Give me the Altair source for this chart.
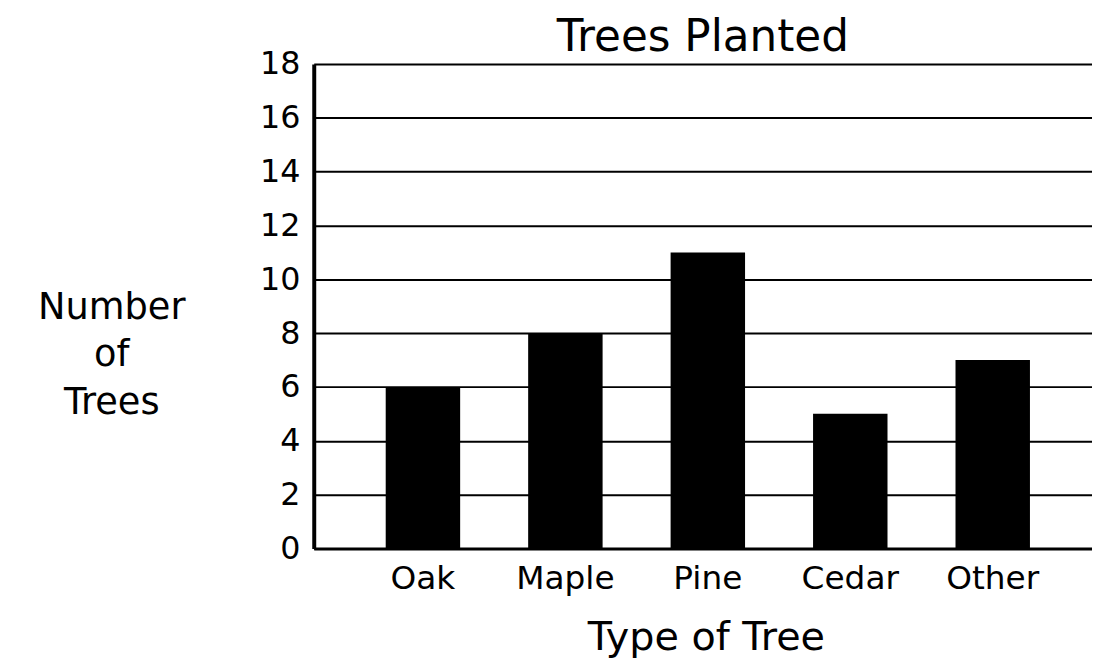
import altair as alt
import pandas as pd

trees = ["Oak", "Maple", "Pine", "Cedar", "Other"]
counts = [6, 8, 11, 5, 7]
y_ticks = [0, 2, 4, 6, 8, 10, 12, 14, 16, 18]

df = pd.DataFrame({"tree": trees, "count": counts})

FONT = "DejaVu Sans"

chart = alt.Chart(df).mark_bar(color="black").encode(
    x=alt.X(
        "tree:N",
        sort=trees,
        scale=alt.Scale(paddingInner=0.4774, paddingOuter=0.4704, align=0.537),
        axis=alt.Axis(
            title="Type of Tree", labelAngle=0, labelFont=FONT, labelFontSize=33,
            labelColor="black", labelPadding=14, ticks=False,
            domainColor="black", domainWidth=3, grid=False,
            titleFont=FONT, titleFontSize=40, titleFontWeight="normal",
            titleColor="black", titleBaseline="alphabetic", titleX=395,
            titleY=102, titleAlign="center",
        ),
    ),
    y=alt.Y(
        "count:Q",
        scale=alt.Scale(domain=[0, 18], nice=False, zero=True),
        axis=alt.Axis(
            values=y_ticks, title=["Number", "of", "Trees"], titleAngle=0,
            titleX=-204, titleY=245, titleAlign="center", titleBaseline="middle",
            titleLineHeight=48, titleFont=FONT, titleFontSize=37,
            titleFontWeight="normal", titleColor="black",
            labelFont=FONT, labelFontSize=32, labelColor="black", labelPadding=14,
            ticks=False, domainColor="black", domainWidth=4,
            grid=True, gridColor="black", gridWidth=2, gridOpacity=1,
        ),
    ),
).properties(
    width=784,
    height=488,
    title=alt.TitleParams(
        "Trees Planted", font=FONT, fontSize=44, fontWeight="normal",
        color="black", frame="group", offset=14, anchor="middle", dy=26,
    ),
    autosize=alt.AutoSizeParams(type="none"),
    padding={"left": 308, "top": 54, "right": 0, "bottom": 113},
).configure_view(strokeWidth=0).configure(background="white")

chart.save("out.html", embed_options={"renderer": "svg", "actions": False})
